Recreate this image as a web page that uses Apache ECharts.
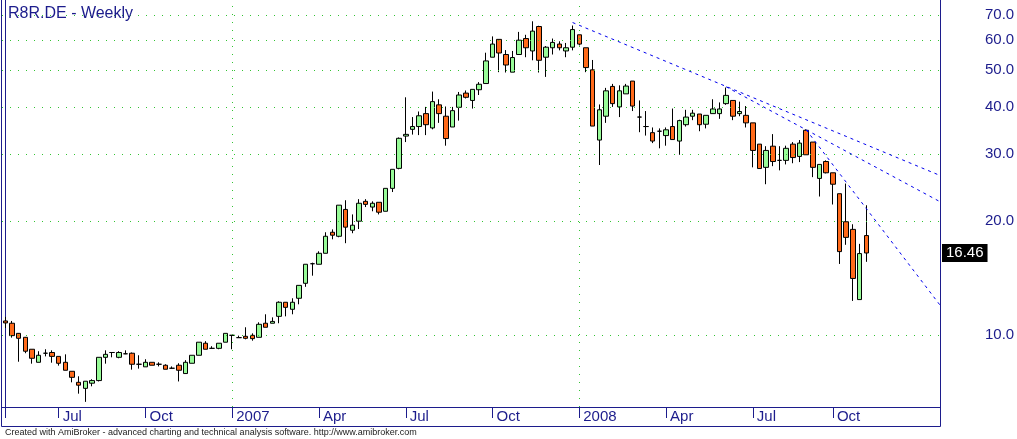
<!DOCTYPE html>
<html>
<head>
<meta charset="utf-8">
<script src="https://cdn.jsdelivr.net/npm/echarts@6/dist/echarts.min.js"></script>
<style>
html,body{margin:0;padding:0;background:#fff;}
#c{width:1017px;height:439px;}
</style>
</head>
<body>
<div id="c"></div>
<script>
// Weekly OHLC of R8R.DE (index 0 = first bar, ~May 2006)
const opens  = [10.89,10.74,10.10,9.86,9.17,8.47,8.95,8.99,8.78,8.47,8.02,7.50,7.23,7.46,7.58,8.73,8.99,8.73,8.92,8.95,
8.37,8.24,8.47,8.37,8.32,8.17,8.32,7.91,8.42,8.84,9.51,9.22,9.22,9.57,9.98,9.84,9.92,9.98,9.86,10.74,
10.74,11.20,12.20,11.69,12.50,13.69,15.42,15.37,16.43,18.67,18.22,21.45,18.90,19.97,22.53,21.76,22.40,21.21,24.38,27.53,
33.50,34.90,35.50,38.40,35.20,40.50,37.80,35.40,39.90,43.50,41.60,44.40,46.10,54.10,60.30,55.00,49.40,55.00,60.60,56.20,
65.20,54.10,57.30,58.60,56.20,57.50,62.00,57.30,50.10,32.70,37.80,45.30,40.00,43.30,46.80,37.60,35.50,34.20,34.50,33.60,
35.50,32.50,35.90,37.80,38.30,36.00,38.40,38.40,40.80,41.60,38.40,38.00,36.30,31.90,27.70,31.50,28.90,28.90,31.90,29.60,
34.70,32.30,25.90,28.70,26.80,23.60,19.90,19.00,12.40,18.30];
const closes = [10.76,9.96,9.80,9.06,8.68,8.84,8.95,8.78,8.42,8.07,7.73,7.37,7.55,7.58,8.73,8.89,8.99,8.99,8.92,8.37,
8.37,8.47,8.32,8.37,8.12,8.17,8.07,8.47,8.84,9.57,9.17,9.22,9.51,10.10,9.98,9.84,9.80,9.78,10.67,10.48,
10.86,12.20,11.83,12.20,13.52,15.37,15.42,16.43,18.22,18.34,22.01,19.26,19.49,22.27,22.12,22.27,21.09,24.38,27.37,33.05,
33.85,35.50,37.90,35.90,41.30,38.40,33.00,39.10,43.00,42.40,44.50,45.90,52.90,58.60,55.50,51.60,54.00,60.00,57.30,63.40,
53.10,57.50,59.20,57.30,57.30,64.00,58.60,50.80,35.60,39.30,44.10,40.80,44.10,45.40,40.20,37.60,35.50,32.50,34.50,34.80,
32.80,36.80,37.60,38.50,35.90,38.00,39.50,39.50,42.90,37.80,38.90,36.30,30.70,27.50,30.70,28.70,28.90,31.10,29.40,32.10,
29.90,27.70,28.20,26.80,25.00,16.60,18.10,14.10,16.40,16.46];
const lows   = [10.43,9.84,8.50,8.95,8.40,8.47,8.78,8.45,8.30,8.07,7.50,7.00,6.66,7.32,7.54,8.40,8.73,8.68,8.90,8.10,
8.15,8.24,8.32,8.26,8.12,8.14,7.54,7.91,8.42,8.84,9.17,9.22,9.17,9.57,9.17,9.84,9.74,9.66,9.86,10.48,
10.74,10.74,11.20,11.34,12.05,13.40,14.34,15.37,16.43,17.89,18.11,17.47,18.56,19.04,21.76,21.21,20.81,21.21,23.84,27.37,
32.30,33.80,33.70,33.70,34.90,36.30,31.60,35.40,36.80,42.10,39.60,43.00,46.10,54.10,49.40,49.30,49.40,55.00,54.10,53.10,
49.30,48.00,55.00,56.40,54.10,56.40,58.10,49.40,35.60,28.10,36.30,40.00,37.60,43.30,39.00,34.30,33.60,32.10,31.10,31.60,
32.80,29.90,35.50,36.90,34.50,35.10,38.40,37.20,40.50,36.90,37.80,35.30,27.70,27.50,25.00,27.90,27.20,28.20,28.40,28.60,
29.90,26.10,23.20,26.70,22.10,15.40,17.30,12.30,12.40,15.60];
const highs  = [11.16,10.89,10.12,9.88,9.17,9.06,9.17,9.11,8.78,8.89,8.02,7.78,7.55,7.64,8.73,9.11,8.99,9.06,9.11,8.99,
8.84,8.63,8.47,8.47,8.37,8.26,8.42,8.58,8.84,9.57,9.63,9.34,9.51,10.10,9.98,9.96,10.48,10.10,10.80,11.34,
11.13,12.27,12.20,12.50,13.52,15.37,15.52,16.63,18.67,19.00,22.01,22.68,20.81,22.83,22.83,22.53,22.40,24.38,27.37,33.22,
42.40,37.60,38.90,40.00,43.90,41.90,40.10,40.00,43.80,44.20,44.50,46.50,55.60,61.40,60.30,56.50,56.20,63.10,62.00,67.30,
65.50,57.90,60.60,59.60,59.00,65.60,62.00,57.30,53.20,40.60,44.90,46.00,45.60,46.00,46.80,41.60,39.00,35.30,35.10,35.30,
39.60,37.00,39.30,39.30,38.30,38.00,41.90,41.10,45.00,41.60,41.30,40.20,36.30,31.90,31.50,33.90,31.50,31.60,32.30,32.70,
34.90,32.30,28.20,28.90,26.80,23.60,25.10,19.60,17.40,22.00];

// axis ticks (bar index of first week of quarter) and their labels
const tickIdx    = [0, 8, 21, 34, 47, 60, 73, 86, 99, 112, 124];
const tickLabels = ['', 'Jul', 'Oct', '2007', 'Apr', 'Jul', 'Oct', '2008', 'Apr', 'Jul', 'Oct'];
const yearIdx    = [34, 86];
const priceLevels = [10, 20, 30, 40, 50, 60, 70];
// hand-drawn trend lines: two anchor points [barIndex, price], extended to the right edge
const trendLines = [
  [[85, 66.8], [108, 45.3]],
  [[108, 45.2], [120, 34.8]],
  [[120, 34.8], [126, 25.3]]
];

const X_MIN = -0.5, X_MAX = 140.05;
const Y_MIN = 6.455, Y_MAX = 76.6;
const NAVY = '#1c1c8c';
const GRID_GREEN = '#33c433';
const FONT = 'Liberation Sans, Arial, sans-serif';

const candleData = opens.map((o, i) => [i, o, closes[i], lows[i], highs[i]]);

function extendTo(p1, p2, x) {
  const k = (Math.log(p2[1]) - Math.log(p1[1])) / (p2[0] - p1[0]);
  return Math.exp(Math.log(p1[1]) + k * (x - p1[0]));
}

const markData = [];
priceLevels.forEach(v => {
  markData.push({
    yAxis: v,
    lineStyle: {color: GRID_GREEN, type: [1, 7], width: 1},
    label: {show: true}
  });
});
yearIdx.forEach(i => {
  markData.push({
    xAxis: i,
    lineStyle: {color: GRID_GREEN, type: [1, 7], width: 1},
    label: {show: false}
  });
});
trendLines.forEach(t => {
  markData.push([
    {coord: t[0], lineStyle: {color: '#0000ee', type: [3, 4], width: 1}, label: {show: false}},
    {coord: [X_MAX, extendTo(t[0], t[1], X_MAX)]}
  ]);
});
const lastIdx = closes.length - 1;
const lastClose = closes[lastIdx];

const chart = echarts.init(document.getElementById('c'), null, {renderer: 'canvas'});
chart.setOption({
  animation: false,
  backgroundColor: '#ffffff',
  title: {
    text: 'R8R.DE - Weekly', left: 3, top: 1,
    textStyle: {fontSize: 16, fontWeight: 'normal', color: NAVY, fontFamily: FONT}
  },
  grid: {left: 2, right: 77, top: 0, bottom: 32},
  xAxis: {
    type: 'value', min: X_MIN, max: X_MAX,
    axisLine: {show: true, lineStyle: {color: NAVY, width: 1}},
    axisTick: {show: true, customValues: tickIdx, length: 11, lineStyle: {color: NAVY}},
    axisLabel: {
      show: true, customValues: tickIdx, align: 'left', margin: 2, padding: [0, 0, 0, 4],
      fontSize: 15, color: NAVY, fontFamily: FONT,
      formatter: v => { const k = tickIdx.indexOf(Math.round(v)); return k >= 0 ? tickLabels[k] : ''; }
    },
    splitLine: {show: false}
  },
  yAxis: {
    type: 'log', logBase: 10, position: 'right', min: Y_MIN, max: Y_MAX,
    axisLine: {show: true, lineStyle: {color: NAVY, width: 1}},
    axisTick: {show: false}, axisLabel: {show: false}, splitLine: {show: false}
  },
  series: [{
    type: 'candlestick',
    data: candleData,
    encode: {x: 0, y: [1, 2, 3, 4]},
    barWidth: 5,
    itemStyle: {
      color: '#98fb98', color0: '#ff6a1a',
      borderColor: '#000', borderColor0: '#000', borderColorDoji: '#000', borderWidth: 1
    },
    markLine: {
      silent: true, symbol: 'none', animation: false,
      label: {
        position: 'end', distance: 45, fontSize: 15, color: NAVY, fontFamily: FONT,
        formatter: p => Number(p.value).toFixed(1)
      },
      data: markData
    }
  }, {
    // last close marker label on the right axis
    type: 'line',
    data: [[lastIdx, lastClose]],
    symbol: 'none',
    lineStyle: {width: 0},
    silent: true,
    markLine: {
      silent: true, symbol: 'none', animation: false,
      lineStyle: {color: 'rgba(0,0,0,0)', width: 0},
      label: {show: true, position: 'end', distance: 2, formatter: lastClose.toFixed(2),
              backgroundColor: '#000', color: '#fff', padding: [2, 4, 1, 4], fontSize: 15, fontFamily: FONT},
      data: [[{coord: [lastIdx, lastClose]}, {coord: [X_MAX, lastClose]}]]
    }
  }],
  graphic: [
    {type: 'rect', silent: true, z: 100,
     shape: {x: 1.5, y: -10, width: 939, height: 436.5},
     style: {fill: 'none', stroke: NAVY, lineWidth: 1}},
    {type: 'text', left: 5, top: 428, silent: true,
     style: {text: 'Created with AmiBroker - advanced charting and technical analysis software. http://www.amibroker.com',
             font: '9px Liberation Sans, Arial, sans-serif', fill: '#222'}}
  ]
});
</script>
</body>
</html>
